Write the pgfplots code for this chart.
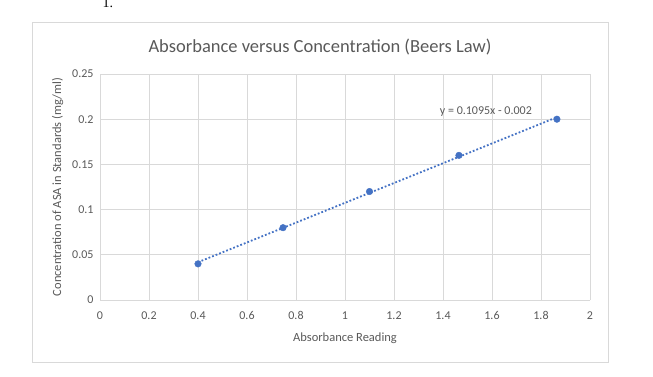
\documentclass[border=0pt]{standalone}
\usepackage{pgfplots}
\pgfplotsset{compat=1.18}
\usepackage{fontspec}
\setmainfont{Carlito}
\newfontfamily\serif{Liberation Serif}
\definecolor{xblue}{HTML}{4472C4}
\definecolor{xgrid}{HTML}{D9D9D9}
\definecolor{xtext}{HTML}{595959}
\begin{document}
\begin{tikzpicture}[x=1pt,y=1pt]
\useasboundingbox (0,0) rectangle (653,376);
\node[anchor=base west,font=\serif\fontsize{14}{16}\selectfont] at (99,368) {1.};
\draw[xgrid,line width=0.9pt] (32.5,14) rectangle (608,354);
\node[font=\fontsize{18.5}{22}\selectfont,text=xtext] at (320,329) {Absorbance versus Concentration (Beers Law)};
\begin{axis}[
  at={(100pt,76pt)}, anchor=south west,
  scale only axis, width=490pt, height=226pt,
  xmin=0, xmax=2, ymin=0, ymax=0.25,
  xtick={0,0.2,...,2.01}, ytick={0,0.05,...,0.251},
  xticklabels={0,0.2,0.4,0.6,0.8,1,1.2,1.4,1.6,1.8,2},
  yticklabels={0,0.05,0.1,0.15,0.2,0.25},
  grid=major, major grid style={xgrid,line width=0.8pt},
  axis line style={draw=none},
  major tick length=0pt,
  tick label style={font=\fontsize{12}{14}\selectfont,text=xtext},
  xticklabel style={yshift=-8pt},
  yticklabel style={xshift=-3pt},
  label style={font=\fontsize{12.5}{14}\selectfont,text=xtext},
  xlabel={Absorbance Reading},
  ylabel={Concentration of ASA in Standards (mg/ml)},
  xlabel style={yshift=-6pt},
  ylabel style={yshift=2pt},
  clip=false,
]
\addplot[xblue, line width=1.8pt, dotted] coordinates {(0.4,0.0418) (1.865,0.2022)};
\addplot[only marks, mark=*, mark size=3.3pt, xblue] coordinates {
 (0.4,0.04) (0.747,0.08) (1.1,0.12) (1.465,0.16) (1.865,0.2)};
\node[font=\fontsize{12}{14}\selectfont,text=xtext] at (axis cs:1.575,0.2085) {y = 0.1095x - 0.002};
\end{axis}
\end{tikzpicture}
\end{document}
